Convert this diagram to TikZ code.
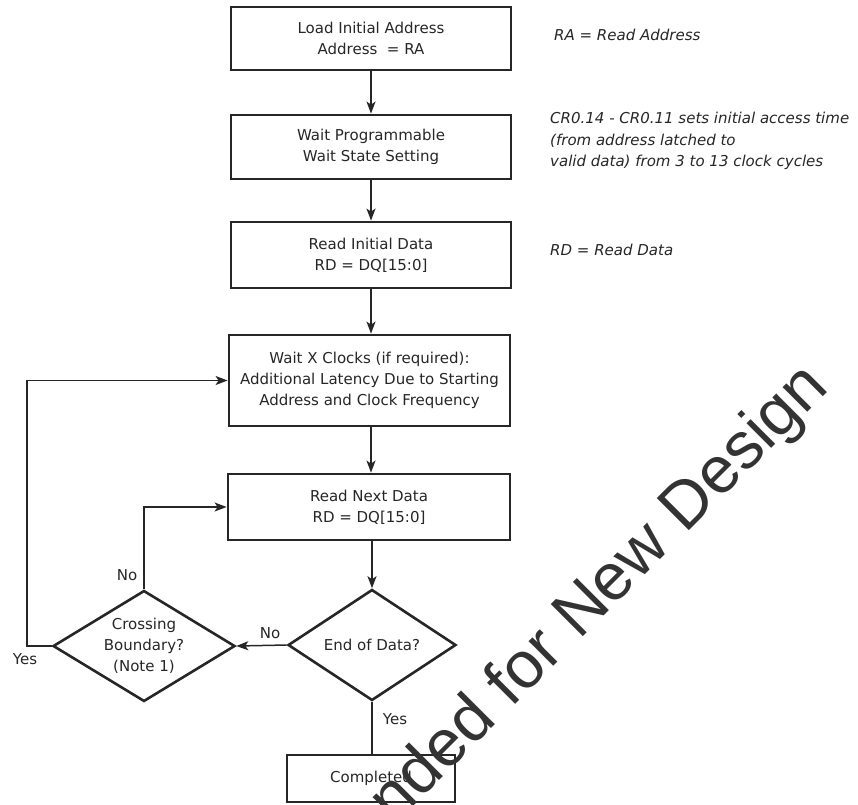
\documentclass[tikz,border=0pt]{standalone}
\usepackage{fontspec}
\setmainfont{DejaVu Sans}
\newfontfamily\wmfont{Liberation Sans}
\usetikzlibrary{shapes.geometric,arrows.meta}
\begin{document}
\begin{tikzpicture}[x=1pt,y=-1pt,
  txt/.style={font=\fontsize{15}{21}\selectfont,text=black!85},
  box/.style={txt,draw=black!85,line width=2.8pt,minimum width=280pt,align=center,inner sep=0pt},
  dia/.style={draw=black!85,line width=2.6pt,diamond,inner sep=0pt},
  arr/.style={draw=black!85,line width=1.5pt,-{Stealth[length=12pt,width=9pt,inset=3pt]}},
  con/.style={draw=black!85,line width=1.5pt},
  note/.style={font=\fontsize{15}{21.5}\selectfont\itshape,text=black!85,align=left,inner sep=0pt},
  lbl/.style={txt,inner sep=0pt}]
\useasboundingbox (0,0) rectangle (858,804);

\node[box,minimum height=63pt] (b1) at (371,38.5) {Load Initial Address\\Address~ = RA};
\node[box,minimum height=64pt] (b2) at (371,147) {Wait Programmable\\Wait State Setting};
\node[box,minimum height=66pt] (b3) at (371,255) {Read Initial Data\\RD = DQ[15:0]};
\node[box,minimum height=91pt,minimum width=281pt] (b4) at (369.5,380.5) {Wait X Clocks (if required):\\Additional Latency Due to Starting\\Address and Clock Frequency};
\node[box,minimum height=66pt,minimum width=282pt] (b5) at (369,507) {Read Next Data\\RD = DQ[15:0]};
\node[dia,minimum width=168pt,minimum height=111pt,label={[txt]center:End of Data?}] (d2) at (372,645) {};
\node[dia,minimum width=182pt,minimum height=111pt,label={[txt,align=center]center:Crossing\\Boundary?\\(Note 1)}] (d1) at (144,646) {};
\node[box,minimum width=168pt,minimum height=47pt] (b6) at (371,778.5) {Completed};

\coordinate (lc) at (27,646);
\draw[arr] (b1.south) -- (b2.north);
\draw[arr] (b2.south) -- (b3.north);
\draw[arr] (b3.south) -- (b4.north -| b3.south);
\draw[arr] (b4.south -| b3.south) -- (b5.north -| b3.south);
\draw[arr] (b5.south -| d2.north) -- (d2.north);
\draw[arr] (d2.west) -- (d1.east);
\draw[arr] (d1.north) |- (b5.west);
\draw[arr] (d1.west) -- (lc) |- (b4.west);
\draw[con] (d2.south) -- (b6.north -| d2.south);

\node[lbl] (no1) at (127,575) {No};
\node[lbl] (no2) at (270,633) {No};
\node[lbl] (yes1) at (25,659) {Yes};
\node[lbl] (yes2) at (395,719) {Yes};

\node[note,anchor=west] (nra) at (554,35) {RA = Read Address};
\node[note,anchor=north west] (ncr) at (550,112) {CR0.14 - CR0.11 sets initial access time\\(from address latched to\\valid data) from 3 to 13 clock cycles};
\node[note,anchor=west] (nrd) at (550,250) {RD = Read Data};

\begin{scope}
\clip (0,0) rectangle (858,804);
\node[font=\wmfont\fontsize{66}{66}\selectfont,text=black!80,anchor=base east,rotate=45,inner sep=0pt] (wm) at (831,389) {Not Recommended for New Design};
\end{scope}
\end{tikzpicture}
\end{document}
